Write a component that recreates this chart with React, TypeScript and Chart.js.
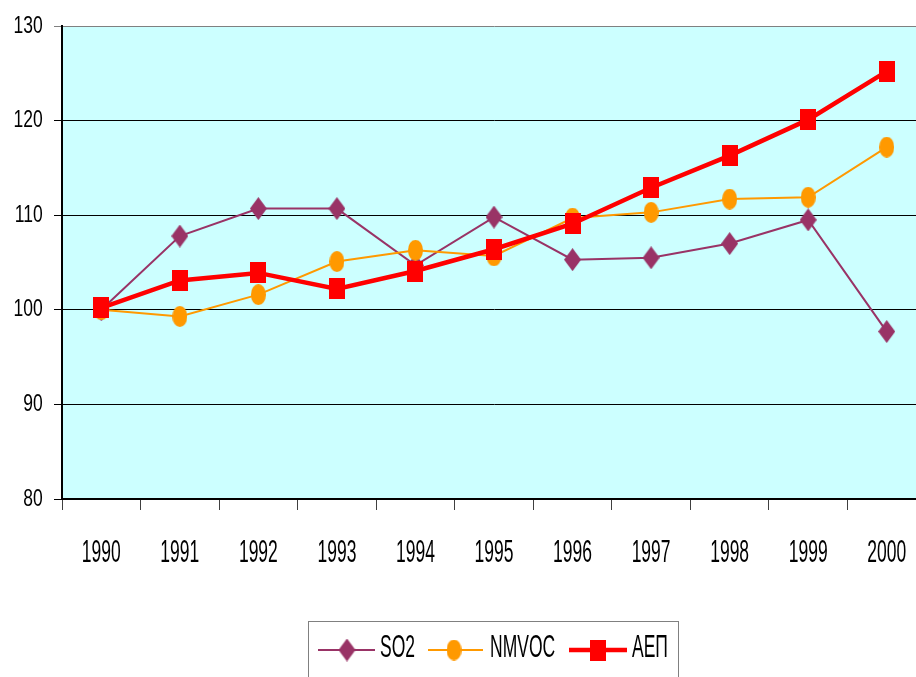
import React, { useEffect, useRef } from "react";
import { Chart, registerables } from "chart.js";

Chart.register(...registerables);

const years = ["1990", "1991", "1992", "1993", "1994", "1995", "1996", "1997", "1998", "1999", "2000"];
const so2 = [100.0, 107.8, 110.7, 110.7, 104.7, 109.8, 105.3, 105.5, 107.0, 109.5, 97.7];
const nmvoc = [100.0, 99.3, 101.6, 105.1, 106.3, 105.7, 109.7, 110.3, 111.7, 111.9, 117.2];
const aep = [100.2, 103.1, 103.9, 102.2, 104.1, 106.4, 109.1, 112.9, 116.3, 120.1, 125.2];
const seriesNames = ["SO2", "NMVOC", "ΑΕΠ"];

const PURPLE = "#993366";
const ORANGE = "#FF9900";
const RED = "#FF0000";
const BG = "#CCFFFF";
const FONT_SIZE = 17.5;
const FONT = `${FONT_SIZE}px "Liberation Sans", Arial, sans-serif`;
const CAP = 0.716 * FONT_SIZE;

function makeMarker(kind: string, w: number, h: number, color: string) {
  const c = document.createElement("canvas");
  c.width = w;
  c.height = h;
  const g = c.getContext("2d")!;
  g.fillStyle = color;
  g.beginPath();
  if (kind === "diamond") {
    g.moveTo(w / 2, 0);
    g.lineTo(w, h / 2);
    g.lineTo(w / 2, h);
    g.lineTo(0, h / 2);
    g.closePath();
  } else if (kind === "circle") {
    g.ellipse(w / 2, h / 2, w / 2, h / 2, 0, 0, Math.PI * 2);
  } else {
    g.rect(0, 0, w, h);
  }
  g.fill();
  return c;
}

function stretchedText(ctx: CanvasRenderingContext2D, text: string, x: number, cy: number, align: CanvasTextAlign, sy: number) {
  ctx.save();
  ctx.translate(x, cy);
  ctx.scale(1, sy);
  ctx.font = FONT;
  ctx.textAlign = align;
  ctx.textBaseline = "alphabetic";
  ctx.fillStyle = "#000";
  ctx.fillText(text, 0, CAP / 2);
  ctx.restore();
}

export default function App() {
  const ref = useRef<HTMLCanvasElement>(null);

  useEffect(() => {
    const diamond = makeMarker("diamond", 17, 23, PURPLE);
    const circle = makeMarker("circle", 15, 21, ORANGE);
    const square = makeMarker("square", 16, 21, RED);
    const markers = [diamond, circle, square];
    const colors = [PURPLE, ORANGE, RED];
    const widths = [2, 2, 4.5];

    const bgPlugin = {
      id: "bg",
      beforeDraw(chart: any) {
        const { ctx, chartArea } = chart;
        ctx.save();
        ctx.fillStyle = "#fff";
        ctx.fillRect(0, 0, chart.width, chart.height);
        ctx.fillStyle = BG;
        ctx.fillRect(chartArea.left, chartArea.top, chartArea.right - chartArea.left, chartArea.bottom - chartArea.top);
        ctx.restore();
      },
    };

    const textPlugin = {
      id: "texts",
      afterDraw(chart: any) {
        const { ctx } = chart;
        const ys = chart.scales.y;
        ys.ticks.forEach((t: any) => {
          const py = ys.getPixelForValue(t.value);
          stretchedText(ctx, String(t.value), 42.7, py - 2, "right", 1.38);
        });
        const xs = chart.scales.x;
        xs.ticks.forEach((t: any, i: number) => {
          const px = xs.getPixelForTick(i);
          stretchedText(ctx, String(years[i]), px, 551, "center", 1.74);
        });
        // legend
        ctx.save();
        ctx.strokeStyle = "#808080";
        ctx.lineWidth = 1;
        ctx.strokeRect(308.5, 621.5, 370, 100);
        const items = [
          { x1: 318, x2: 375, mx: 347, tx: 380 },
          { x1: 428, x2: 483, mx: 454, tx: 490 },
          { x1: 569, x2: 627, mx: 598, tx: 632 },
        ];
        items.forEach((it, i) => {
          ctx.strokeStyle = colors[i];
          ctx.lineWidth = widths[i];
          ctx.beginPath();
          ctx.moveTo(it.x1, 650);
          ctx.lineTo(it.x2, 650);
          ctx.stroke();
          const m = markers[i];
          ctx.drawImage(m, it.mx - m.width / 2, 650 - m.height / 2);
          stretchedText(ctx, seriesNames[i], it.tx, 645.5, "left", 1.76);
        });
        ctx.restore();
      },
    };

    const chart = new Chart(ref.current!, {
      type: "line",
      data: {
        labels: years,
        datasets: [
          {
            label: seriesNames[0],
            data: so2,
            borderColor: PURPLE,
            backgroundColor: PURPLE,
            borderWidth: 2,
            pointStyle: diamond as any,
            order: 3,
            tension: 0,
          },
          {
            label: seriesNames[1],
            data: nmvoc,
            borderColor: ORANGE,
            backgroundColor: ORANGE,
            borderWidth: 2,
            pointStyle: circle as any,
            order: 2,
            tension: 0,
          },
          {
            label: seriesNames[2],
            data: aep,
            borderColor: RED,
            backgroundColor: RED,
            borderWidth: 4.5,
            pointStyle: square as any,
            order: 1,
            tension: 0,
          },
        ],
      },
      options: {
        responsive: false,
        animation: false,
        devicePixelRatio: 1,
        layout: { autoPadding: false, padding: { top: 26, left: 0, right: 0, bottom: 0 } },
        plugins: { legend: { display: false }, tooltip: { enabled: false } },
        scales: {
          x: {
            type: "category",
            offset: true,
            grid: {
              display: true,
              drawOnChartArea: false,
              drawTicks: true,
              tickLength: 11,
              color: "#404040",
              offset: true,
            },
            border: { display: true, color: "#000", width: 2 },
            ticks: { display: false },
            afterFit: (s: any) => {
              s.height = 178;
            },
          },
          y: {
            min: 80,
            max: 130,
            ticks: { display: false, stepSize: 10 },
            grid: {
              color: (c: any) => (c.tick && c.tick.value === 130 ? "#808080" : "#000"),
              tickLength: 8,
              lineWidth: 1,
            },
            border: { display: true, color: "#000", width: 2 },
            afterFit: (s: any) => {
              s.width = 62;
            },
          },
        },
      },
      plugins: [bgPlugin, textPlugin],
    } as any);
    return () => chart.destroy();
  }, []);

  return (
    <div style={{ position: "fixed", left: 0, top: 0, width: 916, height: 677, overflow: "hidden", background: "#fff" }}>
      <div style={{ position: "relative", width: 926, height: 677 }}>
        <canvas ref={ref} width={926} height={677} style={{ display: "block", width: 926, height: 677 }} />
      </div>
    </div>
  );
}
